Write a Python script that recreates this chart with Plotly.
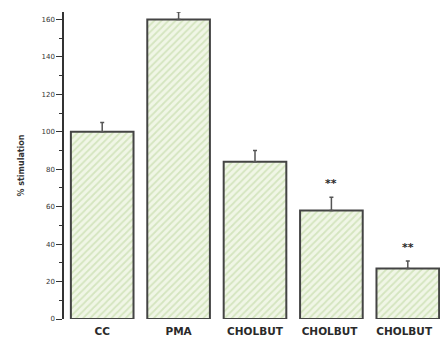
import plotly.graph_objects as go

categories = ["CC", "PMA", "CHOLBUT", "CHOLBUT ", "CHOLBUT  "]
values = [100, 160, 84, 58, 27]
errors = [5, 4, 6, 7, 4]
sig_labels = ["", "", "", "**", "**"]
y_ticks = [0, 20, 40, 60, 80, 100, 120, 140, 160]
y_minor = [10, 30, 50, 70, 90, 110, 130, 150]

FONT = "DejaVu Sans, Arial"

fig = go.Figure()
fig.add_trace(go.Bar(
    x=categories, y=values,
    marker=dict(
        color="#eef5e2",
        line=dict(color="#444444", width=2),
        pattern=dict(shape="/", fgcolor="#b8d398", bgcolor="#f0f6e6", size=5, solidity=0.35),
    ),
    error_y=dict(type="data", symmetric=False, array=errors, arrayminus=[0]*len(errors),
                 color="#555555", thickness=1.5, width=2),
    width=0.82,
))

for c, v, e, s in zip(categories, values, errors, sig_labels):
    if s:
        fig.add_annotation(x=c, y=v + e, text="<b>" + s + "</b>", showarrow=False,
                           yanchor="bottom", yshift=5,
                           font=dict(family=FONT, size=11, color="#2a2a2a"))

fig.update_layout(
    width=440, height=335,
    margin=dict(l=56, r=2, t=4, b=24),
    paper_bgcolor="white", plot_bgcolor="white",
    showlegend=False,
    font=dict(family=FONT, color="#333"),
    xaxis=dict(showline=False, ticks="", tickfont=dict(size=10.5, color="#2a2a2a"),
               tickprefix="<b>", ticksuffix="</b>", range=[-0.5, 4.5], ticklabelstandoff=4),
    yaxis=dict(range=[0, 164], tickvals=y_ticks, showline=True, linecolor="#333", linewidth=1.5,
               ticks="outside", ticklen=6, tickwidth=1.2, tickcolor="#333",
               tickfont=dict(size=7, color="#333"), tickprefix="<b>", ticksuffix="</b>",
               minor=dict(tickvals=y_minor, ticks="outside", ticklen=3, tickcolor="#333"),
               showgrid=False, zeroline=False,
               title=dict(text="<b>% stimulation</b>", font=dict(size=8, color="#333"), standoff=16)),
)

fig.write_html("out.html")
